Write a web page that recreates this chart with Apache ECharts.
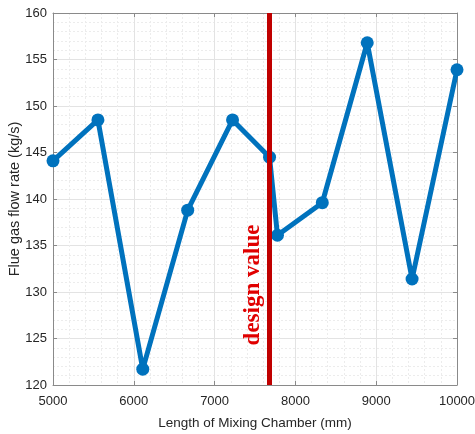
<!DOCTYPE html>
<html>
<head>
<meta charset="utf-8">
<script src="https://cdn.jsdelivr.net/npm/echarts@6/dist/echarts.min.js"></script>
<style>
  html, body { margin: 0; padding: 0; background: #fff; }
  #chart { width: 475px; height: 434px; }
</style>
</head>
<body>
<div id="chart"></div>
<script>
  // chamber length (mm) and flue gas flow rate (kg/s)
  const lengths = [5000, 5556, 6111, 6667, 7222, 7680, 7778, 8333, 8889, 9444, 10000];
  const flowRates = [144.1, 148.5, 121.7, 138.8, 148.5, 144.5, 136.1, 139.6, 156.8, 131.4, 153.9];
  const designLength = 7680;
  const xTicks = [5000, 6000, 7000, 8000, 9000, 10000];
  const yTicks = [120, 125, 130, 135, 140, 145, 150, 155, 160];

  const chart = echarts.init(document.getElementById('chart'));

  const axisFont = { fontFamily: 'Liberation Sans, Arial, sans-serif', fontSize: 13, color: '#262626' };
  const gridLine = { show: true, lineStyle: { color: '#e3e3e3', width: 1 } };
  const minorLine = { show: true, lineStyle: { color: '#ececec', type: [2, 2], width: 1 } };
  const frameLine = { show: true, lineStyle: { color: '#8a8a8a' } };
  const frameTick = { show: true, inside: true, length: 4, lineStyle: { color: '#8a8a8a' } };

  const option = {
    animation: false,
    grid: { left: 53, right: 18, top: 13, bottom: 49, outerBoundsMode: 'none', containLabel: false },
    xAxis: [{
      type: 'value',
      min: xTicks[0],
      max: xTicks[xTicks.length - 1],
      interval: 1000,
      name: 'Length of Mixing Chamber (mm)',
      nameLocation: 'middle',
      nameGap: 31,
      nameMoveOverlap: false,
      nameTextStyle: Object.assign({}, axisFont, { fontSize: 13.5 }),
      axisLine: frameLine,
      axisTick: frameTick,
      axisLabel: Object.assign({ margin: 10, formatter: v => String(v) }, axisFont),
      splitLine: gridLine,
      minorTick: { show: false, splitNumber: 5 },
      minorSplitLine: minorLine
    }, {
      type: 'value',
      position: 'top',
      min: xTicks[0],
      max: xTicks[xTicks.length - 1],
      interval: 1000,
      axisLine: frameLine,
      axisTick: frameTick,
      axisLabel: { show: false },
      splitLine: { show: false }
    }],
    yAxis: [{
      type: 'value',
      min: yTicks[0],
      max: yTicks[yTicks.length - 1],
      interval: 5,
      name: 'Flue gas flow rate (kg/s)',
      nameLocation: 'middle',
      nameGap: 31,
      nameMoveOverlap: false,
      nameTextStyle: Object.assign({}, axisFont, { fontSize: 14.5 }),
      axisLine: frameLine,
      axisTick: frameTick,
      axisLabel: Object.assign({ margin: 6, formatter: v => String(v) }, axisFont),
      splitLine: gridLine,
      minorTick: { show: false, splitNumber: 5 },
      minorSplitLine: minorLine
    }, {
      type: 'value',
      position: 'right',
      min: yTicks[0],
      max: yTicks[yTicks.length - 1],
      interval: 5,
      axisLine: frameLine,
      axisTick: frameTick,
      axisLabel: { show: false },
      splitLine: { show: false }
    }],
    series: [{
      type: 'line',
      data: lengths.map((x, i) => [x, flowRates[i]]),
      symbol: 'circle',
      symbolSize: 13,
      lineStyle: { color: '#0072BD', width: 5 },
      itemStyle: { color: '#0072BD' },
      z: 3,
      markLine: {
        silent: true,
        symbol: 'none',
        lineStyle: { color: '#c00000', width: 5, type: 'solid' },
        label: { show: false },
        data: [{ xAxis: designLength }],
        z: 4
      }
    }],
    graphic: [{
      type: 'text',
      x: 253,
      y: 285,
      rotation: Math.PI / 2,
      z: 10,
      style: {
        text: 'design value',
        fill: '#e00000',
        font: 'bold 23px "Liberation Serif", "Times New Roman", serif',
        align: 'center',
        verticalAlign: 'middle'
      }
    }]
  };

  chart.setOption(option);
</script>
</body>
</html>
